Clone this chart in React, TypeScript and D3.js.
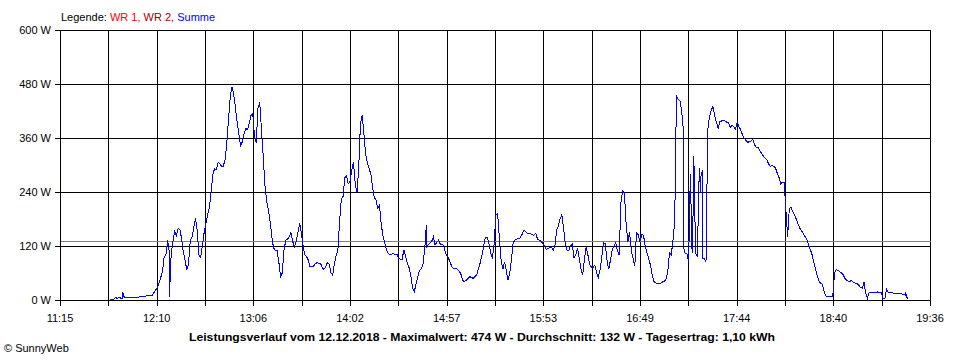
import React, { useEffect, useRef } from "react";
import * as d3 from "d3";

const legendLabels = ["WR 1", "WR 2", "Summe"];
const legendColors = ["#ff0000", "#9c0000", "#0000ff"];

const yTicks = [0, 120, 240, 360, 480, 600];
const xTickLabels = ["11:15", "12:10", "13:06", "14:02", "14:57", "15:53", "16:49", "17:44", "18:40", "19:36"];
const dayStart = "11:15";
const dayEnd = "19:36";
const averageWatts = 132;
const title =
  "Leistungsverlauf vom 12.12.2018 - Maximalwert: 474 W - Durchschnitt: 132 W - Tagesertrag: 1,10 kWh";

// Summe (W)
const summe: [string, number][] = [
  ["11:44", 1], ["11:45", 2], ["11:46", 2], ["11:47", 6], ["11:48", 3], ["11:49", 7], ["11:50", 4], ["11:51", 3],
  ["11:51", 18], ["11:52", 6], ["11:53", 6], ["11:54", 6], ["11:56", 6], ["11:58", 5], ["11:59", 6], ["12:00", 6],
  ["12:01", 7], ["12:03", 8], ["12:05", 9], ["12:07", 9], ["12:08", 10], ["12:09", 16], ["12:10", 21], ["12:11", 28],
  ["12:12", 37], ["12:13", 50], ["12:14", 63], ["12:15", 96], ["12:16", 100], ["12:17", 133], ["12:18", 104], ["12:18", 7],
  ["12:19", 100], ["12:20", 130], ["12:21", 152], ["12:22", 143], ["12:23", 159], ["12:24", 157], ["12:25", 137], ["12:26", 107],
  ["12:27", 89], ["12:28", 67], ["12:29", 80], ["12:30", 131], ["12:31", 140], ["12:32", 160], ["12:33", 182], ["12:34", 156],
  ["12:35", 100], ["12:36", 95], ["12:37", 120], ["12:38", 150], ["12:39", 170], ["12:40", 189], ["12:41", 205], ["12:42", 240],
  ["12:43", 278], ["12:44", 292], ["12:45", 290], ["12:46", 305], ["12:47", 304], ["12:48", 297], ["12:49", 297], ["12:50", 311],
  ["12:51", 345], ["12:52", 400], ["12:53", 450], ["12:54", 474], ["12:55", 458], ["12:56", 428], ["12:57", 395], ["12:58", 370],
  ["12:59", 341], ["13:00", 352], ["13:01", 370], ["13:02", 381], ["13:03", 378], ["13:04", 393], ["13:05", 410], ["13:06", 415],
  ["13:07", 365], ["13:08", 350], ["13:09", 426], ["13:10", 439], ["13:11", 380], ["13:12", 322], ["13:13", 255], ["13:14", 221],
  ["13:15", 200], ["13:16", 175], ["13:17", 140], ["13:18", 115], ["13:19", 111], ["13:20", 110], ["13:21", 85], ["13:22", 52],
  ["13:23", 60], ["13:24", 110], ["13:25", 133], ["13:26", 135], ["13:27", 140], ["13:28", 150], ["13:29", 130], ["13:30", 118],
  ["13:31", 130], ["13:32", 150], ["13:33", 170], ["13:34", 150], ["13:35", 120], ["13:36", 100], ["13:37", 96], ["13:38", 89],
  ["13:39", 74], ["13:40", 75], ["13:41", 75], ["13:42", 80], ["13:43", 83], ["13:44", 81], ["13:45", 82], ["13:46", 72],
  ["13:47", 68], ["13:48", 74], ["13:49", 83], ["13:50", 79], ["13:51", 61], ["13:52", 55], ["13:53", 80], ["13:54", 98],
  ["13:55", 110], ["13:56", 175], ["13:57", 225], ["13:58", 230], ["13:59", 272], ["14:00", 276], ["14:01", 258], ["14:02", 263],
  ["14:03", 289], ["14:04", 307], ["14:05", 259], ["14:06", 237], ["14:07", 293], ["14:08", 390], ["14:09", 411], ["14:10", 370],
  ["14:11", 325], ["14:12", 305], ["14:13", 292], ["14:14", 280], ["14:15", 250], ["14:16", 228], ["14:17", 222], ["14:18", 204],
  ["14:19", 211], ["14:20", 168], ["14:21", 142], ["14:22", 128], ["14:23", 112], ["14:24", 104], ["14:25", 100], ["14:26", 102],
  ["14:27", 104], ["14:28", 100], ["14:29", 102], ["14:30", 93], ["14:31", 90], ["14:32", 89], ["14:33", 112], ["14:34", 98],
  ["14:35", 82], ["14:36", 72], ["14:37", 55], ["14:38", 28], ["14:39", 18], ["14:40", 35], ["14:41", 52], ["14:42", 65],
  ["14:43", 70], ["14:44", 78], ["14:45", 112], ["14:46", 167], ["14:46", 118], ["14:47", 122], ["14:48", 126], ["14:49", 130],
  ["14:50", 140], ["14:51", 122], ["14:52", 128], ["14:53", 133], ["14:54", 124], ["14:55", 123], ["14:56", 121], ["14:57", 104],
  ["14:58", 98], ["14:59", 90], ["15:00", 80], ["15:01", 72], ["15:02", 70], ["15:03", 70], ["15:04", 68], ["15:05", 64],
  ["15:06", 56], ["15:07", 43], ["15:08", 41], ["15:09", 44], ["15:10", 48], ["15:11", 52], ["15:12", 50], ["15:13", 48],
  ["15:14", 52], ["15:15", 56], ["15:16", 70], ["15:17", 83], ["15:18", 100], ["15:19", 120], ["15:20", 140], ["15:21", 140],
  ["15:22", 126], ["15:23", 105], ["15:24", 92], ["15:25", 125], ["15:26", 190], ["15:27", 192], ["15:28", 140], ["15:29", 90],
  ["15:30", 68], ["15:31", 85], ["15:32", 65], ["15:33", 45], ["15:34", 60], ["15:35", 92], ["15:36", 128], ["15:37", 133],
  ["15:38", 135], ["15:39", 137], ["15:40", 138], ["15:41", 145], ["15:42", 155], ["15:43", 153], ["15:44", 148], ["15:45", 148],
  ["15:46", 147], ["15:47", 145], ["15:48", 144], ["15:49", 148], ["15:50", 135], ["15:51", 133], ["15:52", 130], ["15:53", 126],
  ["15:54", 120], ["15:55", 113], ["15:56", 114], ["15:57", 116], ["15:58", 118], ["15:59", 110], ["16:00", 120], ["16:01", 155],
  ["16:02", 165], ["16:03", 180], ["16:04", 189], ["16:05", 160], ["16:06", 125], ["16:07", 110], ["16:08", 110], ["16:09", 120],
  ["16:10", 125], ["16:11", 93], ["16:12", 100], ["16:13", 115], ["16:14", 93], ["16:15", 70], ["16:16", 55], ["16:17", 90],
  ["16:18", 118], ["16:19", 100], ["16:20", 80], ["16:21", 73], ["16:22", 72], ["16:23", 78], ["16:24", 60], ["16:25", 50],
  ["16:26", 67], ["16:27", 96], ["16:28", 127], ["16:29", 125], ["16:30", 88], ["16:31", 68], ["16:32", 89], ["16:33", 111],
  ["16:34", 120], ["16:35", 128], ["16:36", 110], ["16:37", 100], ["16:38", 215], ["16:39", 243], ["16:40", 238], ["16:41", 170],
  ["16:42", 130], ["16:43", 150], ["16:44", 110], ["16:45", 93], ["16:46", 75], ["16:47", 150], ["16:48", 145], ["16:49", 130],
  ["16:50", 145], ["16:51", 144], ["16:52", 120], ["16:53", 105], ["16:54", 92], ["16:55", 78], ["16:56", 57], ["16:57", 41],
  ["16:58", 38], ["16:59", 37], ["17:00", 37], ["17:01", 37], ["17:02", 40], ["17:03", 41], ["17:04", 46], ["17:05", 63],
  ["17:06", 105], ["17:07", 100], ["17:08", 133], ["17:09", 175], ["17:10", 455], ["17:11", 445], ["17:12", 444], ["17:13", 420],
  ["17:14", 378], ["17:14", 118], ["17:15", 104], ["17:16", 104], ["17:17", 85], ["17:18", 281], ["17:19", 104], ["17:20", 259],
  ["17:20", 319], ["17:21", 104], ["17:22", 96], ["17:23", 267], ["17:23", 293], ["17:24", 237], ["17:24", 274], ["17:25", 289],
  ["17:25", 93], ["17:26", 93], ["17:27", 85], ["17:28", 378], ["17:29", 407], ["17:30", 422], ["17:31", 430], ["17:32", 410],
  ["17:33", 395], ["17:34", 381], ["17:35", 396], ["17:36", 398], ["17:37", 400], ["17:38", 398], ["17:39", 395], ["17:40", 395],
  ["17:41", 383], ["17:42", 389], ["17:43", 385], ["17:44", 379], ["17:45", 396], ["17:46", 385], ["17:47", 378], ["17:48", 367],
  ["17:49", 359], ["17:50", 355], ["17:51", 350], ["17:52", 352], ["17:53", 353], ["17:54", 357], ["17:55", 345], ["17:56", 339],
  ["17:57", 340], ["17:58", 332], ["17:59", 326], ["18:00", 320], ["18:01", 316], ["18:02", 312], ["18:03", 303], ["18:04", 297],
  ["18:05", 299], ["18:06", 297], ["18:07", 294], ["18:08", 282], ["18:09", 273], ["18:10", 258], ["18:11", 262], ["18:12", 262],
  ["18:13", 200], ["18:14", 141], ["18:15", 204], ["18:16", 205], ["18:17", 196], ["18:18", 188], ["18:19", 180], ["18:20", 169],
  ["18:21", 160], ["18:22", 154], ["18:23", 148], ["18:24", 141], ["18:25", 135], ["18:26", 124], ["18:27", 113], ["18:28", 102],
  ["18:29", 86], ["18:30", 71], ["18:31", 55], ["18:32", 42], ["18:33", 37], ["18:34", 35], ["18:35", 20], ["18:36", 9],
  ["18:37", 7], ["18:38", 7], ["18:39", 7], ["18:40", 8], ["18:41", 59], ["18:42", 67], ["18:43", 66], ["18:44", 63],
  ["18:45", 60], ["18:46", 56], ["18:47", 48], ["18:48", 44], ["18:49", 42], ["18:50", 42], ["18:51", 43], ["18:52", 39],
  ["18:53", 37], ["18:54", 36], ["18:55", 33], ["18:56", 28], ["18:57", 26], ["18:58", 39], ["18:59", 15], ["19:00", 4],
  ["19:01", 17], ["19:02", 17], ["19:03", 17], ["19:04", 17], ["19:05", 17], ["19:06", 18], ["19:07", 17], ["19:08", 16],
  ["19:09", 4], ["19:10", 3], ["19:11", 24], ["19:12", 17], ["19:13", 16], ["19:14", 16], ["19:15", 15], ["19:16", 15],
  ["19:17", 15], ["19:18", 14], ["19:19", 14], ["19:20", 13], ["19:21", 13], ["19:22", 11], ["19:22", 17], ["19:23", 2],
];

const toMin = (t: string) => {
  const [h, m] = t.split(":").map(Number);
  return h * 60 + m;
};

export default function App() {
  const ref = useRef<SVGSVGElement>(null);

  useEffect(() => {
    const w = 960;
    const h = 360;
    const left = 60;
    const right = 930;
    const top = 30;
    const bottom = 300;
    const font = "'Liberation Sans', Arial, sans-serif";

    const svg = d3.select(ref.current);
    svg.selectAll("*").remove();
    svg.attr("width", w).attr("height", h);

    const t0 = toMin(dayStart);
    const t1 = toMin(dayEnd);
    const x = d3.scaleLinear().domain([t0, t1]).range([left, right]);
    const y = d3.scaleLinear().domain([0, 600]).range([bottom, top]);
    const px = (v: number) => Math.round(v) + 0.5;

    // 18 grid intervals, every second one labelled
    const step = (t1 - t0) / 18;
    const gridTimes = d3.range(19).map(i => t0 + i * step);

    const grid = svg.append("g").attr("shape-rendering", "crispEdges");

    grid
      .selectAll("line.v")
      .data(gridTimes)
      .enter()
      .append("line")
      .attr("x1", d => px(x(d)))
      .attr("x2", d => px(x(d)))
      .attr("y1", px(y(600)))
      .attr("y2", px(y(0)) + 5)
      .attr("stroke", "#000");

    grid
      .selectAll("line.h")
      .data(yTicks)
      .enter()
      .append("line")
      .attr("x1", left - 5)
      .attr("x2", px(x(t1)))
      .attr("y1", d => px(y(d)))
      .attr("y2", d => px(y(d)))
      .attr("stroke", "#000");

    // average line
    svg
      .append("line")
      .attr("shape-rendering", "crispEdges")
      .attr("x1", px(x(t0)))
      .attr("x2", px(x(t1)))
      .attr("y1", px(y(averageWatts)))
      .attr("y2", px(y(averageWatts)))
      .attr("stroke", "#808080");

    const line = d3
      .line<[string, number]>()
      .x(d => x(toMin(d[0])))
      .y(d => y(d[1]));

    svg
      .append("path")
      .datum(summe)
      .attr("d", line)
      .attr("fill", "none")
      .attr("stroke", "#0000ff")
      .attr("stroke-width", 1)
      .attr("shape-rendering", "crispEdges");

    // y labels
    svg
      .selectAll("text.y")
      .data(yTicks)
      .enter()
      .append("text")
      .attr("x", left - 9)
      .attr("y", d => y(d) + 4)
      .attr("text-anchor", "end")
      .attr("font-family", font)
      .attr("font-size", 11)
      .text(d => d + " W");

    // x labels
    svg
      .selectAll("text.x")
      .data(xTickLabels)
      .enter()
      .append("text")
      .attr("x", (d, i) => x(gridTimes[i * 2]))
      .attr("y", bottom + 22)
      .attr("text-anchor", "middle")
      .attr("font-family", font)
      .attr("font-size", 11)
      .text(d => d);

    // legend
    const legend = svg
      .append("text")
      .attr("x", left + 1)
      .attr("y", 21)
      .attr("font-family", font)
      .attr("font-size", 11);
    legend.append("tspan").attr("fill", "#000").text("Legende: ");
    legendLabels.forEach((l, i) => {
      legend
        .append("tspan")
        .attr("fill", legendColors[i])
        .text(l + (i < legendLabels.length - 1 ? ", " : ""));
    });

    svg
      .append("text")
      .attr("x", 482)
      .attr("y", 341)
      .attr("text-anchor", "middle")
      .attr("font-family", font)
      .attr("font-size", 11)
      .attr("font-weight", "bold")
      .attr("textLength", 586)
      .attr("lengthAdjust", "spacingAndGlyphs")
      .text(title);

    svg
      .append("text")
      .attr("x", 4)
      .attr("y", 352)
      .attr("font-family", font)
      .attr("font-size", 11)
      .text("\u00a9 SunnyWeb");
  }, []);

  return (
    <svg
      ref={ref}
      width={960}
      height={360}
      style={{ position: "absolute", left: 0, top: 0, background: "#fff" }}
    />
  );
}
